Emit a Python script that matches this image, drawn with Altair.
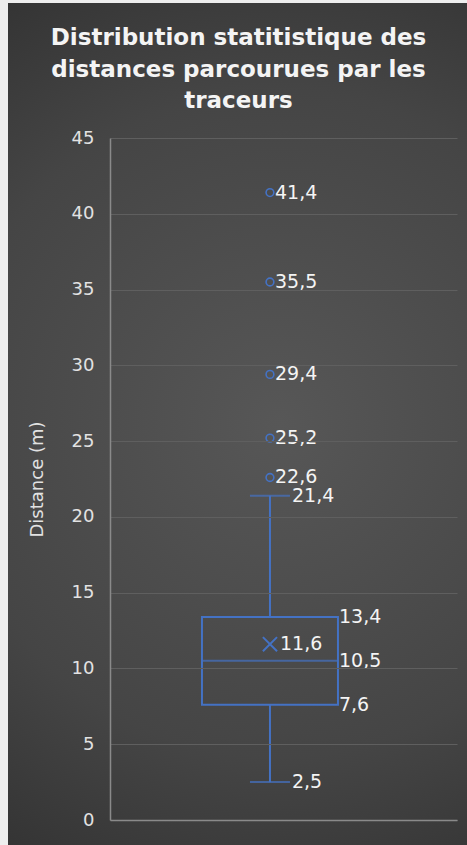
import altair as alt
import pandas as pd

# ---- data ----
serie = ["Distances"]
val_min = [2.5]
val_q1 = [7.6]
val_median = [10.5]
val_q3 = [13.4]
val_max = [21.4]
val_mean = [11.6]
outliers = [22.6, 25.2, 29.4, 35.5, 41.4]
y_ticks = [0, 5, 10, 15, 20, 25, 30, 35, 40, 45]
title_lines = ["Distribution statitistique des", "distances parcourues par les", "traceurs"]
y_title = "Distance (m)"

# ---- tables built from the arrays ----
stats = pd.DataFrame({"serie": serie, "q1": val_q1, "median": val_median, "q3": val_q3})
whisk_seg = pd.DataFrame({"serie": serie * 2, "lo": val_min + val_q3, "hi": val_q1 + val_max})
whisk_ends = pd.DataFrame({"serie": serie * 2, "value": val_min + val_max})
box_lab = pd.DataFrame({"serie": serie * 3, "value": val_q1 + val_median + val_q3})
mean_df = pd.DataFrame({"serie": serie, "value": val_mean})
out_df = pd.DataFrame({"serie": serie * len(outliers), "value": outliers})

BLUE = "#4472C4"
TXT = "#f4f4f4"
AX = "#e2e2e2"
FONT = "DejaVu Sans"
W, H = 347, 682

x_scale = alt.Scale(type="band", domain=serie, paddingInner=0, paddingOuter=0.5, align=0.422)
y_scale = alt.Scale(domain=[0, 45], nice=False, zero=True)

y_axis = alt.Axis(
    title=y_title, values=y_ticks, format="d", ticks=False, labelPadding=16,
    labelColor=AX, labelFont=FONT, labelFontSize=18,
    titleColor=AX, titleFont=FONT, titleFontSize=18, titleFontWeight="normal",
    titleX=-73, titleY=H / 2, titleAngle=270, titleAlign="center", titleBaseline="middle",
    gridColor="#5f5f5f", gridWidth=1.2, domainColor="#8a8a8a", domainWidth=1.5, zindex=1,
)
x_axis = alt.Axis(title="", labels=False, ticks=False, grid=False, domainColor="#8a8a8a",
                  domainWidth=1.5, zindex=1)


def X():
    return alt.X("serie:N", scale=x_scale, axis=x_axis)


def Y(field):
    return alt.Y(field, type="quantitative", scale=y_scale, axis=y_axis, title=y_title)


bg = alt.Chart(pd.DataFrame({"k": [0]})).mark_rect(
    fill=alt.Gradient(
        gradient="radial", x1=0.55, y1=0.5, x2=0.55, y2=0.5, r1=0, r2=0.72,
        stops=[alt.GradientStop(offset=0, color="#575757"),
               alt.GradientStop(offset=0.55, color="#454545"),
               alt.GradientStop(offset=1, color="#2a2a2a")],
    )
).encode(x=alt.value(-102), x2=alt.value(357), y=alt.value(-135), y2=alt.value(707))

whiskers = alt.Chart(whisk_seg).mark_rule(color=BLUE, strokeWidth=2).encode(
    x=X(), y=Y("lo"), y2="hi"
)
caps = alt.Chart(whisk_ends).mark_tick(color=BLUE, size=40, thickness=2, orient="horizontal").encode(
    x=X(), y=Y("value")
)
box = alt.Chart(stats).mark_bar(fill="transparent", stroke=BLUE, strokeWidth=2, size=136).encode(
    x=X(), y=Y("q1"), y2="q3"
)
median = alt.Chart(stats).mark_tick(color=BLUE, size=136, thickness=2, orient="horizontal").encode(
    x=X(), y=Y("median")
)
mean_pt = alt.Chart(mean_df).mark_point(
    shape="M-1,-1L1,1M-1,1L1,-1", size=200, filled=False, stroke=BLUE, strokeWidth=2, opacity=1
).encode(x=X(), y=Y("value"))
out_pt = alt.Chart(out_df).mark_point(
    shape="circle", size=60, filled=False, stroke=BLUE, strokeWidth=1.6, opacity=1
).encode(x=X(), y=Y("value"))


def labels(df, dx):
    return alt.Chart(df).mark_text(
        align="left", baseline="middle", dx=dx, font=FONT, fontSize=19, color=TXT
    ).encode(x=X(), y=Y("value"), text=alt.Text("value:Q", format=".1f"))


chart = alt.layer(
    bg, whiskers, caps, box, median, mean_pt, out_pt,
    labels(out_df, 5), labels(whisk_ends, 22), labels(box_lab, 69), labels(mean_df, 10),
).properties(
    width=W, height=H,
    autosize=alt.AutoSizeParams(type="none"),
    padding={"left": 110, "top": 138, "right": 10, "bottom": 25},
    background="#eeeeee",
    title=alt.TitleParams(
        text=title_lines, font=FONT, fontSize=23, fontWeight="bold", color=TXT,
        lineHeight=31.5, anchor="middle", dx=-45, offset=0, dy=128,
        baseline="alphabetic", zindex=1,
    ),
).configure_view(strokeOpacity=0).configure(
    locale={"number": {"decimal": ",", "thousands": "\u00a0", "grouping": [3], "currency": ["", " €"]}}
)

chart.save("out.html", embed_options={"renderer": "svg", "actions": False})
